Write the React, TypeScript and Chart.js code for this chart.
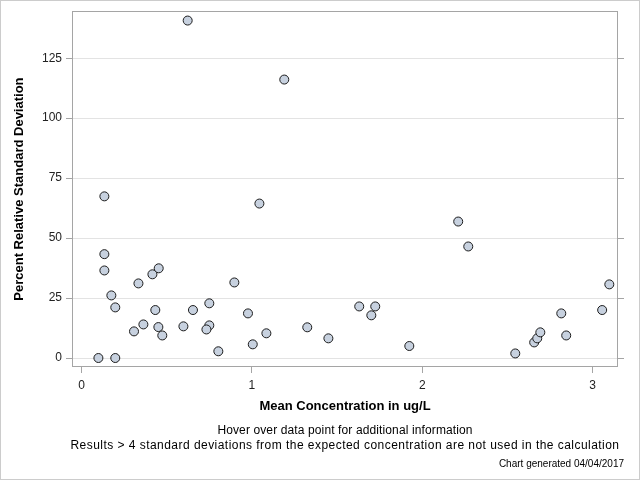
import React, { useEffect, useRef } from "react";
import { Chart, registerables } from "chart.js";

Chart.register(...registerables);

const meanConcentration = [
  0.134, 0.134, 0.134, 0.175, 0.198, 0.099, 0.198, 0.308, 0.334, 0.363,
  0.416, 0.453, 0.433, 0.451, 0.474, 0.598, 0.623, 0.654, 0.750, 0.750,
  0.733, 0.803, 0.897, 0.977, 1.005, 1.044, 1.085, 1.190, 1.325, 1.449,
  1.630, 1.724, 1.701, 1.924, 2.211, 2.270, 2.546, 2.657, 2.675, 2.693,
  2.816, 2.845, 3.056, 3.098,
];
const percentRSD = [
  67.4, 43.3, 36.5, 26.1, 21.1, 0.0, 0.0, 11.1, 31.1, 14.0,
  34.9, 37.4, 20.0, 12.9, 9.4, 13.2, 140.7, 20.0, 22.8, 13.6,
  11.9, 2.8, 31.5, 18.6, 5.7, 64.4, 10.3, 116.1, 12.8, 8.2,
  21.5, 21.5, 17.8, 5.0, 56.9, 46.5, 1.9, 6.5, 8.2, 10.7,
  18.6, 9.4, 20.0, 30.7,
];
const xTickValues = [0, 1, 2, 3];
const yTickValues = [0, 25, 50, 75, 100, 125];

const xTitle = "Mean Concentration in ug/L";
const yTitle = "Percent Relative Standard Deviation";
const footnote1 = "Hover over data point for additional information";
const footnote2 =
  "Results > 4 standard deviations from the expected concentration are not used in the calculation";
const footnote3 = "Chart generated 04/04/2017";

const FONT = "'Liberation Sans', Arial, sans-serif";
const FRAME = "#a5a5a5";

const framePlugin = {
  id: "frameAndNotes",
  afterDraw(chart: any) {
    const { ctx, chartArea } = chart;
    ctx.save();
    ctx.strokeStyle = FRAME;
    ctx.lineWidth = 1;
    ctx.strokeRect(
      Math.round(chartArea.left) + 0.5,
      Math.round(chartArea.top) + 0.5,
      Math.round(chartArea.right - chartArea.left) - 1,
      Math.round(chartArea.bottom - chartArea.top) - 1
    );
    // outer border
    ctx.strokeStyle = "#cccccc";
    ctx.strokeRect(0.5, 0.5, chart.width - 1, chart.height - 1);
    // footnotes
    const cx = (chartArea.left + chartArea.right) / 2;
    ctx.fillStyle = "#000";
    ctx.textBaseline = "middle";
    ctx.textAlign = "center";
    ctx.font = `12px ${FONT}`;
    ctx.letterSpacing = "0.12px";
    ctx.fillText(footnote1, cx, 431);
    ctx.letterSpacing = "0.46px";
    ctx.fillText(footnote2, cx, 446);
    ctx.letterSpacing = "0px";
    ctx.textAlign = "right";
    ctx.font = `10px ${FONT}`;
    ctx.fillText(footnote3, 624, 464);
    ctx.restore();
  },
};

export default function App() {
  const ref = useRef<HTMLCanvasElement>(null);
  useEffect(() => {
    if (!ref.current) return;
    const points = meanConcentration.map((x, i) => ({ x, y: percentRSD[i] }));
    const setY = (s: any) => {
      s.ticks = yTickValues.map((v) => ({ value: v }));
    };
    const chart = new Chart(ref.current, {
      type: "scatter",
      data: {
        datasets: [
          {
            data: points,
            pointRadius: 4.5,
            pointHoverRadius: 4.5,
            pointBackgroundColor: "#c7d1df",
            pointBorderColor: "#1c1c1c",
            pointBorderWidth: 1,
          },
        ],
      },
      options: {
        animation: false,
        responsive: false,
        devicePixelRatio: 1,
        layout: { padding: { top: 11, left: 0, right: 0, bottom: 0 } },
        plugins: { legend: { display: false }, tooltip: { enabled: false } },
        scales: {
          x: {
            type: "linear",
            position: "bottom",
            min: -0.056,
            max: 3.149,
            afterBuildTicks: (s: any) => {
              s.ticks = xTickValues.map((v) => ({ value: v }));
            },
            afterFit: (s: any) => {
              s.height = 113;
            },
            grid: {
              drawOnChartArea: false,
              drawTicks: true,
              tickLength: 6,
              tickColor: FRAME,
            },
            border: { display: false },
            ticks: {
              color: "#222",
              font: { family: FONT, size: 12 },
              padding: 5,
              maxRotation: 0,
            },
            title: {
              display: true,
              text: xTitle,
              color: "#000",
              font: { family: FONT, size: 13, weight: "bold" },
              padding: { top: 0, bottom: 66 },
            },
          },
          y: {
            type: "linear",
            position: "left",
            min: -3.75,
            max: 144.6,
            afterBuildTicks: setY,
            afterFit: (s: any) => {
              s.width = 72;
            },
            grid: {
              color: "#e3e3e3",
              drawTicks: true,
              tickLength: 6,
              tickColor: FRAME,
            },
            border: { display: false },
            ticks: {
              color: "#222",
              font: { family: FONT, size: 12 },
              padding: 4,
            },
            title: {
              display: true,
              text: yTitle,
              color: "#000",
              font: { family: FONT, size: 13, weight: "bold" },
              padding: { top: 12, bottom: 0 },
            },
          },
          y2: {
            type: "linear",
            position: "right",
            min: -3.75,
            max: 144.6,
            afterBuildTicks: setY,
            afterFit: (s: any) => {
              s.width = 22;
            },
            grid: {
              drawOnChartArea: false,
              drawTicks: true,
              tickLength: 6,
              tickColor: FRAME,
            },
            border: { display: false },
            ticks: { display: false },
          },
        },
      },
      plugins: [framePlugin],
    } as any);
    return () => chart.destroy();
  }, []);
  return (
    <div style={{ position: "absolute", left: 0, top: 0, width: 640, height: 480 }}>
      <canvas ref={ref} width={640} height={480} style={{ display: "block" }} />
    </div>
  );
}
